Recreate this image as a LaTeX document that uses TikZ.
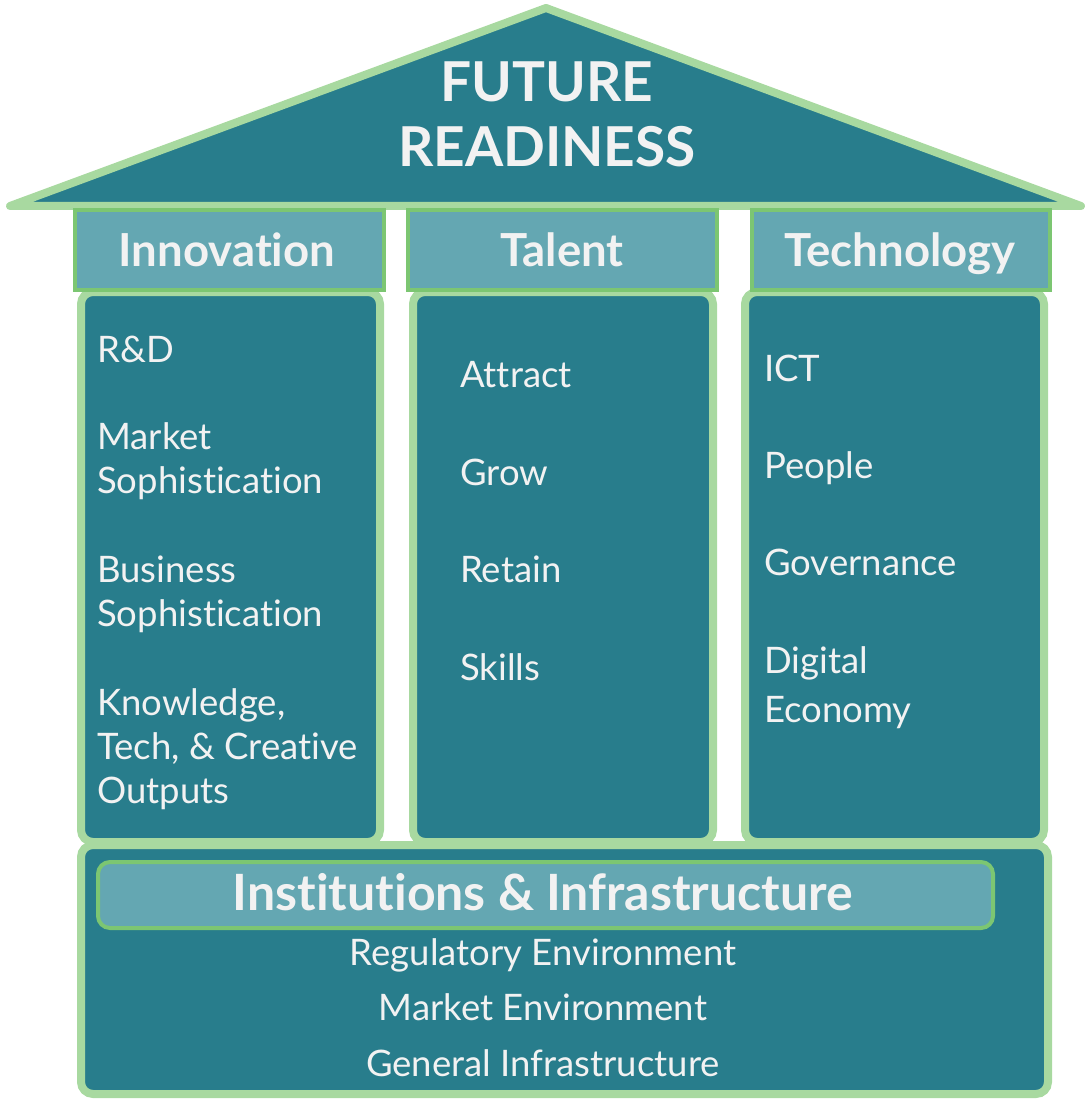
\documentclass[tikz,border=0pt]{standalone}
\usepackage{fontspec}
\setmainfont{Lato}[Ligatures=NoCommon]
\definecolor{teal}{HTML}{287D8C}
\definecolor{lgreen}{HTML}{A8D9A0}
\definecolor{mgreen}{HTML}{7CC672}
\definecolor{hfill}{HTML}{64A7B2}
\definecolor{txt}{HTML}{F2F2F2}
\tikzset{
  roofshape/.style={fill=teal, draw=lgreen, line width=8pt, line join=round},
  bodybox/.style={fill=teal, draw=lgreen, line width=8pt, rounded corners=12pt},
  headbox/.style={fill=hfill, draw=mgreen, line width=4pt},
  headtxt/.style={text=txt, font=\fontsize{45.5}{50}\selectfont\bfseries, inner sep=0pt},
  bodytxt/.style={text=txt, font=\fontsize{36.5}{40}\selectfont, inner sep=0pt, anchor=base west},
  basetxt/.style={text=txt, font=\fontsize{36.5}{40}\selectfont, inner sep=0pt, anchor=base},
  titletxt/.style={text=txt, font=\fontsize{55}{60}\selectfont\bfseries, inner sep=0pt, anchor=base},
}
\begin{document}
\begin{tikzpicture}[x=1pt,y=-1pt]
\useasboundingbox (0,0) rectangle (1088,1099);
% roof
\draw[roofshape] (10,206) -- (546,8) -- (1081,206) -- cycle;
% column bodies
\draw[bodybox] (81,292) rectangle (380,842);
\draw[bodybox] (413,292) rectangle (713,842);
\draw[bodybox] (745,292) rectangle (1044,842);
% base
\draw[bodybox] (81,845) rectangle (1048,1094);
% headers
\node[headbox, minimum width=309pt, minimum height=80pt, anchor=north west] (hinn) at (73,208) {};
\node[headbox, minimum width=309pt, minimum height=80pt, anchor=north west] (htal) at (406,208) {};
\node[headbox, minimum width=298pt, minimum height=80pt, anchor=north west] (htec) at (750,208) {};
\node[headbox, rounded corners=12pt, minimum width=895pt, minimum height=66pt, anchor=north west] (hins) at (96,860) {};
% titles
\node[titletxt] (t1) at (547,102) {FUTURE};
\node[titletxt] (t2) at (547,167) {READINESS};
\node[headtxt, anchor=base] (l1) at (227,266) {Innovation};
\node[headtxt, anchor=base] (l2) at (562,266) {Talent};
\node[headtxt, anchor=base] (l3) at (900,266) {Technology};
\node[headtxt, anchor=base, font=\fontsize{50}{54}\selectfont\bfseries] (l4) at (543,910) {Institutions \& Infrastructure};
% column 1
\node[bodytxt] (a1) at (97,362) {R\&D};
\node[bodytxt] (a2) at (97,449) {Market};
\node[bodytxt] (a3) at (97,493) {Sophistication};
\node[bodytxt] (a4) at (97,582) {Business};
\node[bodytxt] (a5) at (97,626) {Sophistication};
\node[bodytxt] (a6) at (97,715) {Knowledge,};
\node[bodytxt] (a7) at (97,759) {Tech, \& Creative};
\node[bodytxt] (a8) at (97,803) {Outputs};
% column 2
\node[bodytxt] (b1) at (460,387) {Attract};
\node[bodytxt] (b2) at (460,485) {Grow};
\node[bodytxt] (b3) at (460,582) {Retain};
\node[bodytxt] (b4) at (460,680) {Skills};
% column 3
\node[bodytxt] (c1) at (764,381) {ICT};
\node[bodytxt] (c2) at (764,478) {People};
\node[bodytxt] (c3) at (764,575) {Governance};
\node[bodytxt] (c4) at (764,673) {Digital};
\node[bodytxt] (c5) at (764,722) {Economy};
% base
\node[basetxt] (d1) at (543,965) {Regulatory Environment};
\node[basetxt] (d2) at (543,1020) {Market Environment};
\node[basetxt] (d3) at (543,1076) {General Infrastructure};
\end{tikzpicture}
\end{document}
